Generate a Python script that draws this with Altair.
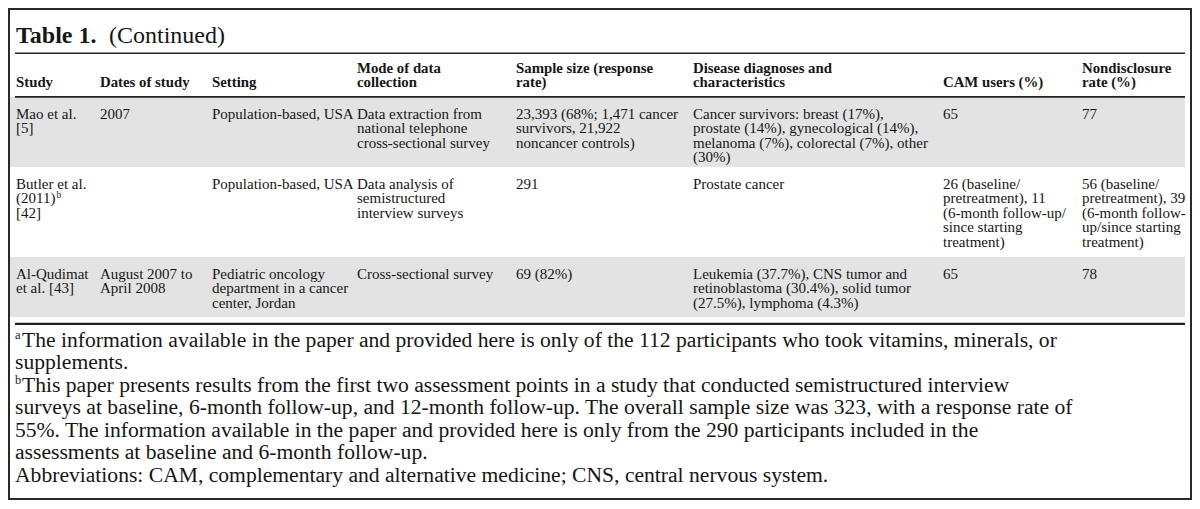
import altair as alt
import pandas as pd

# ---------------- data (table content) ----------------
title_bold = "Table 1."
title_rest = "(Continued)"

headers = [["Study"], ["Dates of study"], ["Setting"], ["Mode of data", "collection"],
           ["Sample size (response", "rate)"], ["Disease diagnoses and", "characteristics"],
           ["CAM users (%)"], ["Nondisclosure", "rate (%)"]]

studies = [["Mao et al.", "[5]"], ["Butler et al.", "(2011)", "[42]"], ["Al-Qudimat", "et al. [43]"]]
study_sup = ["", "b", ""]
dates = [["2007"], [], ["August 2007 to", "April 2008"]]
settings = [["Population-based, USA"], ["Population-based, USA"],
            ["Pediatric oncology", "department in a cancer", "center, Jordan"]]
modes = [["Data extraction from", "national telephone", "cross-sectional survey"],
         ["Data analysis of", "semistructured", "interview surveys"],
         ["Cross-sectional survey"]]
samples = [["23,393 (68%; 1,471 cancer", "survivors, 21,922", "noncancer controls)"],
           ["291"], ["69 (82%)"]]
diseases = [["Cancer survivors: breast (17%),", "prostate (14%), gynecological (14%),",
             "melanoma (7%), colorectal (7%), other", "(30%)"],
            ["Prostate cancer"],
            ["Leukemia (37.7%), CNS tumor and", "retinoblastoma (30.4%), solid tumor",
             "(27.5%), lymphoma (4.3%)"]]
cam_users = [["65"], ["26 (baseline/", "pretreatment), 11", "(6-month follow-up/",
                      "since starting", "treatment)"], ["65"]]
nondisclosure = [["77"], ["56 (baseline/", "pretreatment), 39", "(6-month follow-",
                          "up/since starting", "treatment)"], ["78"]]

footnote_marks = ["a", "", "b", "", "", "", ""]
footnotes = [
    "The information available in the paper and provided here is only of the 112 participants who took vitamins, minerals, or",
    "supplements.",
    "This paper presents results from the first two assessment points in a study that conducted semistructured interview",
    "surveys at baseline, 6-month follow-up, and 12-month follow-up. The overall sample size was 323, with a response rate of",
    "55%. The information available in the paper and provided here is only from the 290 participants included in the",
    "assessments at baseline and 6-month follow-up.",
    "Abbreviations: CAM, complementary and alternative medicine; CNS, central nervous system.",
]

# ---------------- layout (reference pixel coordinates) ----------------
W, H = 1184, 492
col_x = [16, 100, 212, 357, 516, 693, 943, 1082]
row_top = [97, 167, 257]
row_bot = [167, 257, 317]
shaded = [True, False, True]
line_gap = 14.4
first_off = 22
hdr_base = 87.2
foot_base = 346.5
foot_gap = 22.5
FONT = "Liberation Serif"
INK = "#161616"

xs = alt.Scale(domain=[8, 8 + W], range=[0, W])
ys = alt.Scale(domain=[8, 8 + H], range=[0, H])

body_cols = [studies, dates, settings, modes, samples, diseases, cam_users, nondisclosure]
body = []
for r in range(3):
    for c, col in enumerate(body_cols):
        for i, t in enumerate(col[r]):
            body.append({"t": t, "x": col_x[c], "y": row_top[r] + first_off + i * line_gap})
body_df = pd.DataFrame(body)

hdr = []
for c, lines in enumerate(headers):
    n = len(lines)
    for i, t in enumerate(lines):
        hdr.append({"t": t, "x": col_x[c], "y": hdr_base - (n - 1 - i) * line_gap})
hdr_df = pd.DataFrame(hdr)

sup = []
for r, s in enumerate(study_sup):
    if s:
        sup.append({"t": s, "x": col_x[0] + 40.5, "y": row_top[r] + first_off + 1 * line_gap - 5.5})
sup_df = pd.DataFrame(sup)

foot = pd.DataFrame([{"t": t, "x": 22 if footnote_marks[i] else 15,
                      "y": foot_base + i * foot_gap} for i, t in enumerate(footnotes)])
foot_sup = pd.DataFrame([{"t": m, "x": 15, "y": foot_base + i * foot_gap - 7.5}
                         for i, m in enumerate(footnote_marks) if m])

bands = pd.DataFrame([{"x": 9.5, "x2": 1185, "y": row_top[r], "y2": row_bot[r]}
                      for r in range(3) if shaded[r]])
rules = pd.DataFrame([
    {"x": 15, "x2": 1185, "y": 53.3, "w": 1.6},
    {"x": 15, "x2": 1185, "y": 96.8, "w": 1.8},
    {"x": 15, "x2": 1185, "y": 323.8, "w": 2.2},
])
title_df = pd.DataFrame([{"t": title_bold, "x": 16, "y": 43.3, "b": 1},
                         {"t": title_rest, "x": 109, "y": 43.3, "b": 0}])


def X(f="x"):
    return alt.X(f"{f}:Q", scale=xs, axis=None)


def Y(f="y"):
    return alt.Y(f"{f}:Q", scale=ys, axis=None)


band_layer = alt.Chart(bands).mark_rect(color="#e3e3e3").encode(
    x=X(), x2="x2:Q", y=Y(), y2="y2:Q")
rule_layer = alt.Chart(rules).mark_rule(color="#222222").encode(
    x=X(), x2="x2:Q", y=Y(), strokeWidth=alt.StrokeWidth("w:Q", scale=None, legend=None))
frame = alt.Chart(pd.DataFrame({"k": [0]})).mark_rect(
    filled=False, stroke="#2a2a2a", strokeWidth=2).encode(
    x=alt.value(1), x2=alt.value(W - 1), y=alt.value(1), y2=alt.value(H - 1))


def text_layer(df, size, weight="normal"):
    return alt.Chart(df).mark_text(
        align="left", baseline="alphabetic", font=FONT, fontSize=size,
        fontWeight=weight, color=INK).encode(x=X(), y=Y(), text="t:N")


title_b = text_layer(title_df[title_df.b == 1], 24, "bold")
title_n = text_layer(title_df[title_df.b == 0], 24)
hdr_layer = text_layer(hdr_df, 14.8, "bold")
body_layer = text_layer(body_df, 15)
sup_layer = text_layer(sup_df, 9.5)
foot_layer = text_layer(foot, 21.6)
foot_sup_layer = text_layer(foot_sup, 12.5)

chart = alt.layer(
    band_layer, rule_layer, title_b, title_n, hdr_layer, body_layer, sup_layer,
    foot_layer, foot_sup_layer, frame
).properties(
    width=W, height=H, padding=0, autosize="none", background="white"
).configure_view(stroke=None)

chart.save("out.html", embed_options={"renderer": "svg", "actions": False})
